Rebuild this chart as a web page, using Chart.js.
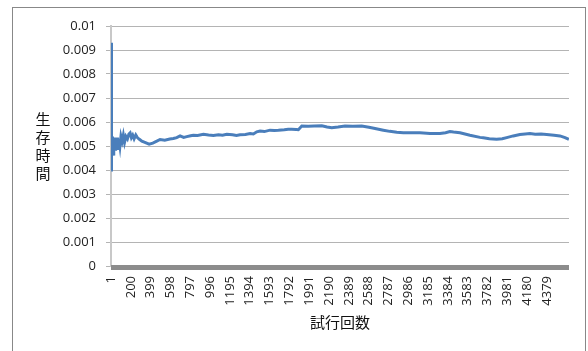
<!DOCTYPE html>
<html>
<head>
<meta charset="utf-8">
<script src="https://cdn.jsdelivr.net/npm/chart.js@4"></script>
<style>
  html, body { margin: 0; padding: 0; background: #fff; }
  #wrap { width: 588px; height: 351px; }
</style>
</head>
<body>
<div id="wrap"><canvas id="survival-chart"></canvas></div>
<script>
// trial numbers (x positions of samples)
const trials = [1, 2, 4, 6, 8, 11, 14, 17, 21, 25, 30, 35, 40, 46, 52, 58, 65, 72, 80, 90,
  100, 112, 124, 136, 150, 165, 180, 192, 205, 218, 232, 249, 265, 285, 310, 340, 383, 420, 460, 493,
  540, 590, 626, 660, 694, 730, 761, 800, 827, 870, 928, 980, 1028, 1080, 1120, 1163, 1220, 1260, 1296, 1350,
  1397, 1430, 1464, 1497, 1540, 1597, 1640, 1681, 1740, 1780, 1815, 1860, 1882, 1916, 1980, 2040, 2117, 2170, 2217, 2280,
  2350, 2430, 2518, 2590, 2652, 2735, 2800, 2870, 2936, 3020, 3103, 3204, 3304, 3360, 3404, 3440, 3505, 3605, 3706, 3739,
  3800, 3873, 3930, 3974, 4040, 4107, 4160, 4208, 4260, 4320, 4375, 4450, 4509, 4560, 4599];

// survival time at each of those trials
const survival = [0.0040, 0.0093, 0.0071, 0.0070, 0.0052, 0.0047, 0.0054, 0.0048, 0.0053, 0.0046, 0.0052, 0.0049, 0.00535, 0.0048, 0.0053, 0.0050, 0.00535, 0.0049, 0.0053, 0.0050,
  0.0054, 0.0052, 0.00545, 0.00515, 0.0054, 0.0053, 0.0055, 0.00555, 0.00535, 0.00545, 0.0053, 0.00546, 0.00535, 0.00528, 0.0052, 0.00515, 0.00508, 0.00512, 0.0052, 0.00527,
  0.00524, 0.00529, 0.00531, 0.00535, 0.00542, 0.00536, 0.00539, 0.00543, 0.00545, 0.00544, 0.00549, 0.00546, 0.00544, 0.00547, 0.00545, 0.00549, 0.00547, 0.00544, 0.00547, 0.00548,
  0.00552, 0.0055, 0.00559, 0.00562, 0.0056, 0.00566, 0.00565, 0.00566, 0.00568, 0.0057, 0.0057, 0.00569, 0.00568, 0.00583, 0.00582, 0.00583, 0.00584, 0.00579, 0.00576, 0.00579,
  0.00583, 0.00582, 0.00583, 0.00578, 0.00573, 0.00566, 0.00561, 0.00557, 0.00555, 0.00555, 0.00555, 0.00552, 0.00552, 0.00555, 0.0056, 0.00558, 0.00555, 0.00545, 0.00536, 0.00534,
  0.0053, 0.00528, 0.0053, 0.00535, 0.00542, 0.00548, 0.0055, 0.00552, 0.00549, 0.0055, 0.00548, 0.00545, 0.00542, 0.00535, 0.00528];

// x tick labels shown on the category axis
const xTickLabels = [1, 200, 399, 598, 797, 996, 1195, 1394, 1593, 1792, 1991, 2190, 2389, 2588, 2787, 2986, 3185, 3384, 3583, 3782, 3981, 4180, 4379];
const yTitle = ['生', '存', '時', '間'];
const xTitle = '試行回数';

// frame, thick category-axis band and stacked y title
const decorations = {
  id: 'decorations',
  beforeDraw(chart) {
    const ctx = chart.ctx;
    ctx.save();
    ctx.fillStyle = '#fff';
    ctx.fillRect(0, 0, chart.width, chart.height);
    ctx.strokeStyle = '#888';
    ctx.lineWidth = 1;
    ctx.strokeRect(12.5, 7.5, 573, 400);
    ctx.restore();
  },
  afterDraw(chart) {
    const ctx = chart.ctx;
    const area = chart.chartArea;
    ctx.save();
    ctx.fillStyle = '#8c8c8c';
    ctx.fillRect(area.left, area.bottom - 1, area.right - area.left, 5);
    ctx.fillStyle = '#111';
    ctx.font = '15px "Noto Sans CJK JP"';
    ctx.textAlign = 'center';
    ctx.textBaseline = 'middle';
    const mid = (area.top + area.bottom) / 2;
    yTitle.forEach((ch, i) => {
      ctx.fillText(ch, 43, mid + (i - 1.5) * 18);
    });
    ctx.restore();
  }
};

new Chart(document.querySelector('#survival-chart').getContext('2d'), {
  type: 'line',
  data: {
    datasets: [{
      data: trials.map((t, i) => ({x: t, y: survival[i]})),
      borderColor: '#4a7ebb',
      borderWidth: 3,
      pointRadius: 0,
      tension: 0,
      fill: false
    }]
  },
  options: {
    responsive: true,
    maintainAspectRatio: false,
    animation: false,
    layout: {padding: {top: 26, right: 19, left: 0, bottom: 0}},
    plugins: {legend: {display: false}, tooltip: {enabled: false}},
    scales: {
      x: {
        type: 'linear',
        min: 0,
        max: 4600,
        afterBuildTicks: scale => { scale.ticks = xTickLabels.map(v => ({value: v})); },
        afterFit: scale => { scale.height = 85; },
        grid: {display: false, drawTicks: false},
        border: {display: false},
        ticks: {
          autoSkip: false,
          minRotation: 90,
          maxRotation: 90,
          padding: 10,
          color: '#222',
          font: {family: '"Open Sans"', size: 13},
          callback: v => String(v)
        },
        title: {
          display: true,
          text: xTitle,
          color: '#111',
          font: {family: '"Noto Sans CJK JP"', size: 15},
          padding: {top: 0, bottom: 20}
        }
      },
      y: {
        min: 0,
        max: 0.01,
        afterFit: scale => { scale.width = 111; },
        grid: {color: '#b4b4b4', tickColor: '#b4b4b4', tickLength: 5, lineWidth: 1},
        border: {color: '#c8c8c8', width: 2},
        ticks: {
          stepSize: 0.001,
          padding: 10,
          color: '#222',
          font: {family: '"Open Sans"', size: 13},
          callback: v => String(Number(v.toFixed(3)))
        }
      }
    }
  },
  plugins: [decorations]
});
</script>
</body>
</html>
